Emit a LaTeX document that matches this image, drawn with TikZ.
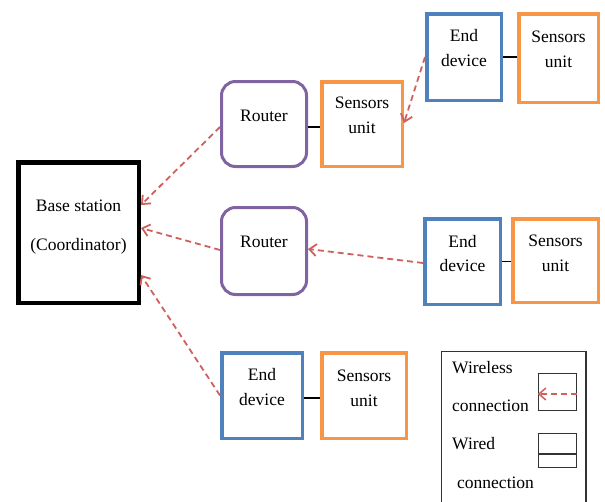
\documentclass[tikz,border=0pt]{standalone}
\usepackage{fontspec}
\setmainfont{Liberation Serif}
\usetikzlibrary{arrows.meta}
\definecolor{cOrange}{HTML}{F79646}
\definecolor{cBlue}{HTML}{4F81BD}
\definecolor{cPurple}{HTML}{8064A2}
\definecolor{cRed}{HTML}{D0605C}
\begin{document}
\begin{tikzpicture}[x=1pt,y=-1pt,
  every node/.style={font=\fontsize{17.5}{24.5}\selectfont},
  devbox/.style={draw=cBlue, line width=3.5pt, inner sep=0pt},
  senbox/.style={draw=cOrange, line width=3.5pt, inner sep=0pt},
  routbox/.style={draw=cPurple, line width=3pt, rounded corners=14pt, inner sep=0pt},
  basebox/.style={draw=black, line width=4.5pt, inner sep=0pt},
  lbl/.style={align=center, inner sep=0pt},
  ltxt/.style={inner sep=0pt, anchor=base west},
  wless/.style={draw=cRed, line width=1.8pt, dash pattern=on 6pt off 4pt, -{Straight Barb[length=7pt,width=12pt]}},
  wired/.style={draw=black, line width=1.3pt},
  legbox/.style={draw=black!80, line width=1.5pt, inner sep=0pt}]
\useasboundingbox (0,0) rectangle (605,501);
% base station
\node[basebox, minimum width=120.5pt, minimum height=140.5pt] (bs) at (78.5,232.5) {};
\node[lbl, font=\fontsize{17.5}{39}\selectfont] (bst) at (78.5,227) {Base station\\(Coordinator)};
% routers
\node[routbox, minimum width=85pt, minimum height=85pt] (r1) at (264,124) {};
\node[lbl] (r1t) at (264,116) {Router};
\node[routbox, minimum width=85pt, minimum height=87pt] (r2) at (264,251) {};
\node[lbl] (r2t) at (264,242) {Router};
% end devices
\node[devbox, minimum width=74.5pt, minimum height=86.5pt] (e1) at (464,57) {};
\node[lbl] (e1t) at (464,48) {End\\device};
\node[devbox, minimum width=75.5pt, minimum height=85.5pt] (e2) at (462.5,261.5) {};
\node[lbl] (e2t) at (462.5,253.5) {End\\device};
\node[devbox, minimum width=80.5pt, minimum height=85.5pt] (e3) at (262,395.5) {};
\node[lbl] (e3t) at (262,387) {End\\device};
% sensors units
\node[senbox, minimum width=80.5pt, minimum height=84.5pt] (s1) at (362,124) {};
\node[lbl] (s1t) at (362,115.5) {Sensors\\unit};
\node[senbox, minimum width=79.5pt, minimum height=88.5pt] (s2) at (558.5,58) {};
\node[lbl] (s2t) at (558.5,49.5) {Sensors\\unit};
\node[senbox, minimum width=85.5pt, minimum height=83.5pt] (s3) at (555.5,260.5) {};
\node[lbl] (s3t) at (555.5,253.5) {Sensors\\unit};
\node[senbox, minimum width=84.5pt, minimum height=85.5pt] (s4) at (364,395.5) {};
\node[lbl] (s4t) at (364,388.5) {Sensors\\unit};
% wireless connections
\draw[wless] ([yshift=-3pt]r1.west) -- ([yshift=27.5pt]bs.east);
\draw[wless] ([yshift=1pt]r2.west) -- ([yshift=4.5pt]bs.east);
\draw[wless] (e3.west) -- ([yshift=-42.5pt]bs.east);
\draw[wless] (e1.west) -- ([yshift=1pt]s1.east);
\draw[wless] ([yshift=-1.5pt]e2.west) -- ([yshift=2pt]r2.east);
% wired connections
\coordinate (r1e) at ([yshift=-3pt]r1.east);
\coordinate (e3e) at ([yshift=-2.5pt]e3.east);
\draw[wired] (r1e) -- (s1.west |- r1e);
\draw[wired] (e1.east) -- (s2.west |- e1.east);
\draw[wired] (e2.east) -- (s3.west |- e2.east);
\draw[wired] (e3e) -- (s4.west |- e3e);
% legend
\node[legbox, minimum width=144.5pt, minimum height=170pt, anchor=north west] (leg) at (440.75,350.75) {};
\node[ltxt] (lw1) at (452,373) {Wireless};
\node[ltxt] (lw2) at (452,411) {connection};
\node[ltxt] (ld1) at (452,449) {Wired};
\node[ltxt] (ld2) at (457,488) {connection};
\node[legbox, minimum width=38pt, minimum height=37pt] (wlbox) at (557.5,392) {};
\draw[wless, line width=1.5pt] ([yshift=-2pt]wlbox.east) -- ([yshift=-2pt]wlbox.west);
\node[legbox, minimum width=38pt, minimum height=34pt] (wdbox) at (557.5,450.5) {};
\draw[legbox] ([yshift=-3.5pt]wdbox.west) -- ([yshift=-3.5pt]wdbox.east);
\end{tikzpicture}
\end{document}
